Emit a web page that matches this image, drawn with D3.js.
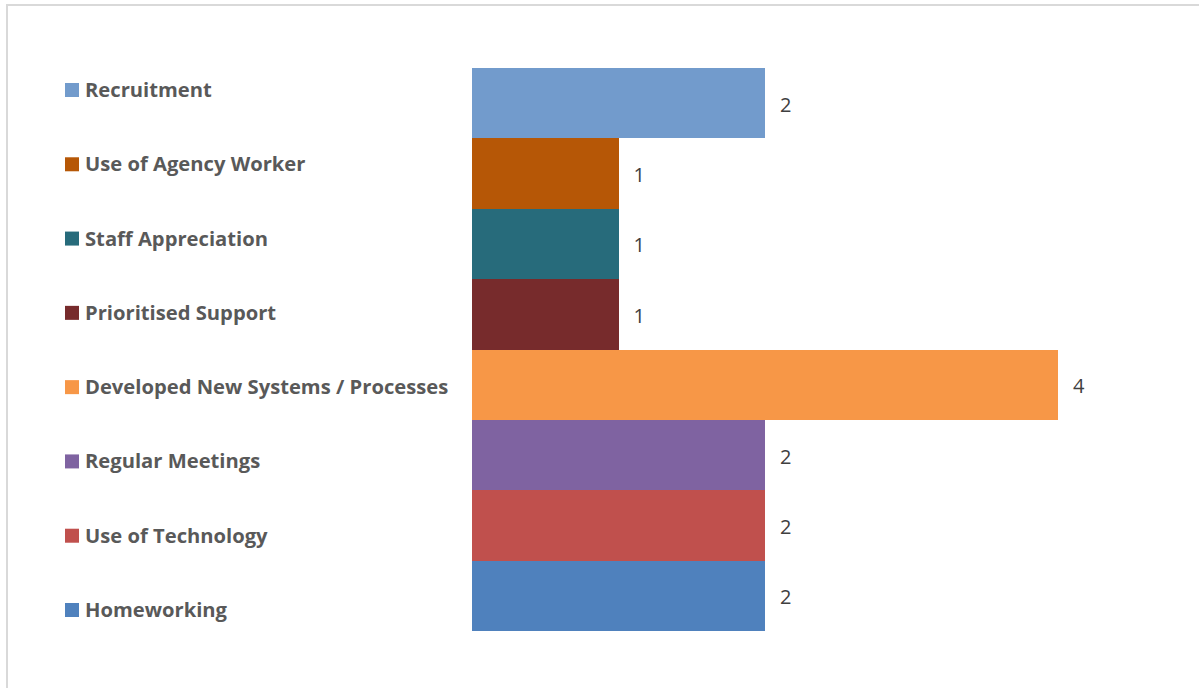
<!DOCTYPE html>
<html>
<head>
<meta charset="utf-8">
<script src="https://cdn.jsdelivr.net/npm/d3@7"></script>
<style>
html,body{margin:0;padding:0;background:#fff;}
svg{display:block;}
</style>
</head>
<body>
<svg id="chart" width="1199" height="688"></svg>
<script>
const categories = ["Recruitment","Use of Agency Worker","Staff Appreciation","Prioritised Support","Developed New Systems / Processes","Regular Meetings","Use of Technology","Homeworking"];
const values = [2,1,1,1,4,2,2,2];
const colors = ["#729BCC","#B65706","#276B7B","#772B2C","#F79747","#7F63A1","#C0504D","#4F81BD"];

const svg = d3.select("#chart");
svg.append("rect").attr("x",7).attr("y",5).attr("width",1210).attr("height",700)
  .attr("fill","#fff").attr("stroke","#d9d9d9").attr("stroke-width",2);

const x = d3.scaleLinear().domain([0,4]).range([472,1058]);
const y = d3.scaleBand().domain(categories).range([68,631]).padding(0);

svg.selectAll("rect.bar").data(categories).join("rect").attr("class","bar")
  .attr("x",x(0)).attr("y",d=>y(d)).attr("width",(d,i)=>x(values[i])-x(0))
  .attr("height",y.bandwidth()).attr("fill",(d,i)=>colors[i])
  .attr("shape-rendering","crispEdges");

svg.selectAll("text.val").data(categories).join("text").attr("class","val")
  .attr("x",(d,i)=>x(values[i])+15).attr("y",d=>y(d)+y.bandwidth()/2+1)
  .attr("dominant-baseline","central")
  .attr("font-family","'Open Sans', sans-serif").attr("font-size",20)
  .attr("fill","#404040").text((d,i)=>values[i]);

const ly = d3.scalePoint().domain(categories).range([90,610]);
const leg = svg.selectAll("g.leg").data(categories).join("g").attr("class","leg")
  .attr("transform",d=>`translate(65,${ly(d)})`);
leg.append("rect").attr("x",0).attr("y",-7).attr("width",14).attr("height",14).attr("fill",(d,i)=>colors[i]);
leg.append("text").attr("x",20).attr("y",-1).attr("dominant-baseline","central")
  .attr("font-family","'Open Sans', sans-serif").attr("font-weight","bold")
  .attr("font-size",20.2).attr("fill","#595959").text(d=>d);
</script>
</body>
</html>
